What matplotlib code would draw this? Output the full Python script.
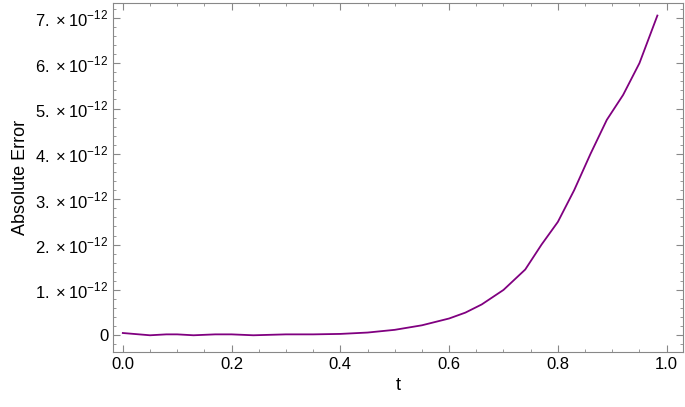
import matplotlib.pyplot as plt
from matplotlib.ticker import FixedLocator, MultipleLocator

plt.rcParams['font.family'] = ['Liberation Sans', 'DejaVu Sans']
plt.rcParams['mathtext.fontset'] = 'custom'
plt.rcParams['mathtext.rm'] = 'Liberation Sans'

# absolute error (units of 1e-12)
t = [0.0, 0.02, 0.05, 0.08, 0.1, 0.13, 0.17, 0.2, 0.24, 0.3, 0.35, 0.4, 0.45,
     0.5, 0.55, 0.6, 0.63, 0.66, 0.7, 0.74, 0.77, 0.8, 0.83, 0.86, 0.89,
     0.92, 0.95, 0.983]
err = [0.05, 0.03, 0.0, 0.02, 0.02, 0.0, 0.02, 0.02, 0.0, 0.02, 0.02, 0.03, 0.06,
       0.12, 0.22, 0.37, 0.5, 0.68, 1.0, 1.45, 2.0, 2.5, 3.2, 4.0, 4.75,
       5.3, 6.0, 7.05]
yticks = [0, 1, 2, 3, 4, 5, 6, 7]
ylabels = ['0'] + [r'$%d.\times10^{-12}$' % v for v in yticks[1:]]

fig = plt.figure(figsize=(6.85, 4.07), dpi=100)
ax = fig.add_axes([0.165, 0.135, 0.832, 0.858])
ax.plot(t, [e * 1e-12 for e in err], color='#800080', lw=1.3)

ax.set_xlim(-0.018, 1.03)
ax.set_ylim(-0.37e-12, 7.33e-12)
ax.xaxis.set_major_locator(MultipleLocator(0.2))
ax.xaxis.set_minor_locator(MultipleLocator(0.05))
ax.xaxis.set_major_formatter(plt.FuncFormatter(lambda v, p: '%.1f' % v))
ax.yaxis.set_major_locator(FixedLocator([v * 1e-12 for v in yticks]))
ax.yaxis.set_minor_locator(MultipleLocator(0.2e-12))
ax.set_yticklabels(ylabels)
ax.yaxis.get_offset_text().set_visible(False)
ax.tick_params(which='both', direction='in', labelsize=12, color='#888888', top=True, right=True)
ax.tick_params(which='major', length=5)
ax.tick_params(which='minor', length=2.5)
for s in ax.spines.values():
    s.set_color('#888888')
ax.set_xlabel('t', fontsize=13)
ax.set_ylabel('Absolute Error', fontsize=13)
fig.savefig('out.png')
